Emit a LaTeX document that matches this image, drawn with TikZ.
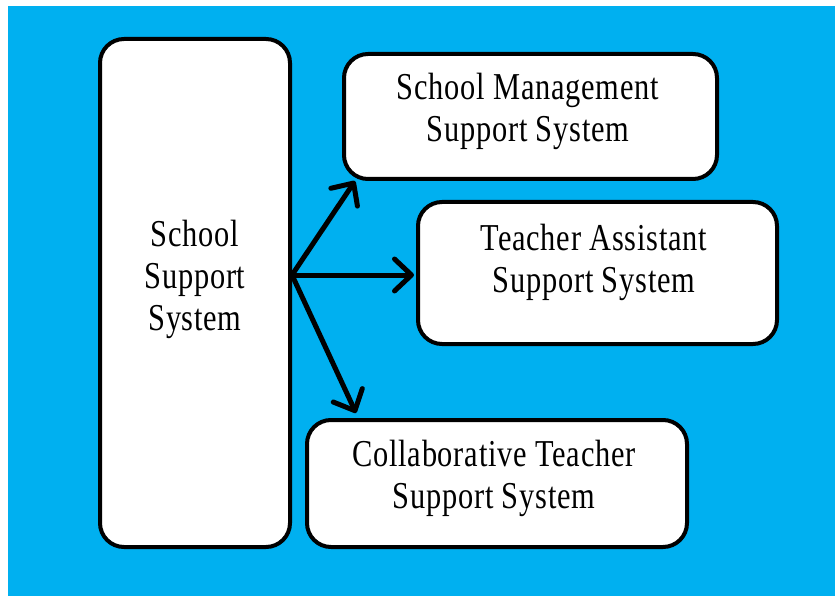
\documentclass[tikz,border=0pt]{standalone}
\usepackage{fontspec}
\setmainfont{Liberation Serif}[FakeStretch=0.8,LetterSpace=2]
\usetikzlibrary{arrows.meta,calc}
\definecolor{bg}{RGB}{0,176,240}
\tikzset{
  box/.style={draw=black, line width=4pt, fill=white, rounded corners=24pt, inner sep=0pt},
  lbl/.style={align=center, font=\fontsize{38}{42}\selectfont, inner sep=0pt, text=black},
  arr/.style={line width=5pt, -{Straight Barb[length=17pt,width=32pt,line cap=round,line join=round]}, line cap=round}
}
\begin{document}
\begin{tikzpicture}[x=1pt,y=-1pt]
\useasboundingbox (0,0) rectangle (835,596);
\fill[white] (0,0) rectangle (835,596);
\fill[bg] (8,6) rectangle (835,596);
% boxes
\node[box, minimum width=190pt, minimum height=508pt] (ss) at (195,293) {};
\node[box, minimum width=373pt, minimum height=125pt] (smss) at (530.5,116.5) {};
\node[box, minimum width=359pt, minimum height=142pt] (tass) at (597.5,273) {};
\node[box, minimum width=380pt, minimum height=127pt] (ctss) at (497,483.5) {};
% labels
\node[lbl] (tss) at (195,279) {School\\Support\\System};
\node[lbl] (tsmss) at (528,111) {School Management\\Support System};
\node[lbl] (ttass) at (594,262) {Teacher Assistant\\Support System};
\node[lbl] (tctss) at (494,478) {Collaborative Teacher\\Support System};
% arrows
\coordinate (o) at ($(ss.east)+(0,-18)$);
\coordinate (e1) at ($(smss.south west)+(13,0)$);
\coordinate (e2) at ($(tass.west)+(-2,2)$);
\coordinate (e3) at ($(ctss.north west)+(51,-5)$);
\draw[arr] (o) -- (e1);
\draw[arr] (o) -- (e2);
\draw[arr] (o) -- (e3);
\end{tikzpicture}
\end{document}
